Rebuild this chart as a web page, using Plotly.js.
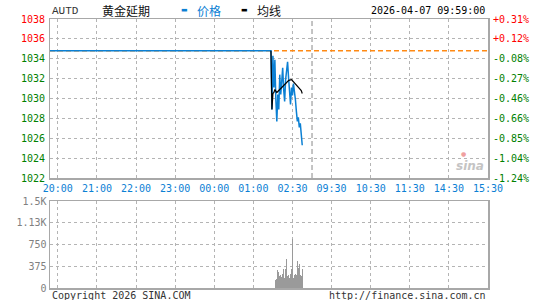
<!DOCTYPE html>
<html>
<head>
<meta charset="utf-8">
<script src="https://cdn.plot.ly/plotly-3.0.1.min.js"></script>
<style>html,body{margin:0;padding:0;background:#fff;}#chart{width:540px;height:300px;}</style>
</head>
<body>
<div id="chart"></div>
<script>
// ---- data (x = minute slot on the compressed trading-time axis) ----
const prevClose = 1034.8;
const preOpenSlots = [0, 339];
const slots = [340.5, 342, 343.5, 345, 346.5, 348, 349.5, 351, 352.5, 354, 355.5, 357, 358.5, 360, 361.5, 363,
               364.5, 366, 367.5, 369, 370.5, 372, 373.5, 375, 376.5, 378, 379.5, 381, 382.5, 384, 385.5, 387];
const price = [1028.9, 1034.3, 1031.1, 1033.9, 1029.9, 1027.7, 1030.4, 1028.9, 1032.4, 1030.4, 1031.7, 1033.1,
               1030.9, 1029.7, 1031.9, 1032.9, 1033.7, 1032.1, 1031.1, 1029.4, 1031.1, 1030.3, 1031.5, 1030.9,
               1029.9, 1028.7, 1027.7, 1028.1, 1027.1, 1027.5, 1026.3, 1025.3];
const avgPrice = [1028.9, 1030.5, 1030.6, 1030.9, 1030.8, 1030.6, 1030.7, 1030.8, 1031.0, 1031.0, 1031.1, 1031.3,
                  1031.4, 1031.4, 1031.5, 1031.6, 1031.7, 1031.8, 1031.85, 1031.9, 1031.9, 1031.8, 1031.7, 1031.6,
                  1031.5, 1031.4, 1031.3, 1031.2, 1031.1, 1031.0, 1030.8, 1030.5];
const volume = [260, 36, 40, 60, 140, 150, 315, 278, 200, 224, 188, 242, 320, 170, 333, 496,
                200, 230, 170, 242, 320, 853, 170, 230, 242, 218, 460, 350, 411, 230, 200, 333];

const xRange = [0, 672];
const timeTickVals = [12, 72, 132, 192, 252, 312, 372, 432, 492, 552, 612, 672];
const timeTickText = ['20:00', '21:00', '22:00', '23:00', '00:00', '01:00', '02:30', '09:30', '10:30', '11:30', '14:30', '15:30'];
const sessionBreak = 402;

const priceTickVals = [1022, 1024, 1026, 1028, 1030, 1032, 1034, 1036, 1038];
const priceTickText = ['1022', '1024', '1026', '1028', '1030', '1032', '1034', '1036', '1038'];
const pctTickText = ['-1.24%', '-1.04%', '-0.85%', '-0.66%', '-0.46%', '-0.27%', '-0.08%', '+0.12%', '+0.31%'];
const volTickVals = [0, 375, 750, 1125, 1500];
const volTickText = ['0', '375', '750', '1.13K', '1.5K'];

// ---- styling ----
const RED = '#ff0000', GREEN = '#008000', BLUE = '#0b80d4', GRAY = '#a8a8a8';
const MONO = 'DejaVu Sans Mono, Liberation Mono, monospace';
const yRange = [1022, 1038];
const tone = v => (v > prevClose ? RED : GREEN);

// pixel -> paper helpers (plot area: x 50..488, y 19..288)
const L = 50, R = 488, T = 19, B = 288;
const px = v => (v - L) / (R - L);
const py = v => (B - v) / (B - T);

const traces = [
  { x: xRange, y: [prevClose, prevClose], type: 'scatter', mode: 'lines', xaxis: 'x', yaxis: 'y',
    line: { color: '#ff8a14', width: 1.5, dash: '5px,3px' }, hoverinfo: 'skip' },
  { x: preOpenSlots.concat(slots), y: [prevClose, prevClose].concat(price), type: 'scatter', mode: 'lines',
    xaxis: 'x', yaxis: 'y', line: { color: BLUE, width: 1.5 }, hoverinfo: 'skip' },
  { x: [preOpenSlots[1]].concat(slots), y: [prevClose].concat(avgPrice), type: 'scatter', mode: 'lines',
    xaxis: 'x', yaxis: 'y', line: { color: '#000000', width: 1.2 }, hoverinfo: 'skip' },
  { x: slots, y: volume, type: 'bar', xaxis: 'x2', yaxis: 'y2', width: 1.1,
    marker: { color: '#9a9a9a', line: { width: 0 } }, hoverinfo: 'skip' }
];

const gridCommon = { showgrid: true, griddash: 'dot', gridcolor: '#b4b4b4', gridwidth: 1,
  showline: true, mirror: true, linecolor: GRAY, linewidth: 1.5, zeroline: false, ticks: '' };

const annotations = [];
// price labels (left) and percent labels (right), coloured by side of previous close
priceTickVals.forEach((v, i) => {
  annotations.push({ text: priceTickText[i], x: px(47), y: v, xref: 'paper', yref: 'y', xanchor: 'right',
    yanchor: 'middle', showarrow: false, font: { family: MONO, size: 10, color: tone(v) } });
  annotations.push({ text: pctTickText[i], x: px(491), y: v, xref: 'paper', yref: 'y', xanchor: 'left',
    yanchor: 'middle', showarrow: false, font: { family: MONO, size: 10, color: tone(v) } });
});
annotations.push(
  { text: 'AUTD', x: px(50), y: py(11), xref: 'paper', yref: 'paper', xanchor: 'left', yanchor: 'middle',
    showarrow: false, font: { family: 'Liberation Mono, monospace', size: 11, color: '#333' } },
  { text: '黄金延期', x: px(100), y: py(10), xref: 'paper', yref: 'paper', xanchor: 'left', yanchor: 'middle',
    showarrow: false, font: { family: 'Noto Sans CJK SC', size: 12, color: '#111' } },
  { text: '▬', x: px(179), y: py(10), xref: 'paper', yref: 'paper', xanchor: 'left', yanchor: 'middle',
    showarrow: false, font: { family: 'DejaVu Sans', size: 7, color: BLUE } },
  { text: '价格', x: px(195), y: py(10), xref: 'paper', yref: 'paper', xanchor: 'left', yanchor: 'middle',
    showarrow: false, font: { family: 'Noto Sans CJK SC', size: 12, color: BLUE } },
  { text: '▬', x: px(239), y: py(10), xref: 'paper', yref: 'paper', xanchor: 'left', yanchor: 'middle',
    showarrow: false, font: { family: 'DejaVu Sans', size: 7, color: '#000' } },
  { text: '均线', x: px(255), y: py(10), xref: 'paper', yref: 'paper', xanchor: 'left', yanchor: 'middle',
    showarrow: false, font: { family: 'Noto Sans CJK SC', size: 12, color: '#111' } },
  { text: '2026-04-07 09:59:00', x: px(487), y: py(10), xref: 'paper', yref: 'paper', xanchor: 'right', yanchor: 'middle',
    showarrow: false, font: { family: MONO, size: 10, color: '#000' } },
  { text: 'Copyright 2026 SINA.COM', x: px(50), y: py(295), xref: 'paper', yref: 'paper', xanchor: 'left', yanchor: 'middle',
    showarrow: false, font: { family: MONO, size: 10, color: '#333' } },
  { text: 'http://finance.sina.com.cn', x: px(488), y: py(295), xref: 'paper', yref: 'paper', xanchor: 'right', yanchor: 'middle',
    showarrow: false, font: { family: MONO, size: 10, color: '#333' } },
  { text: '<b><i>sina</i></b>', x: px(470), y: py(166), xref: 'paper', yref: 'paper', xanchor: 'center', yanchor: 'middle',
    showarrow: false, font: { family: 'DejaVu Sans', size: 12, color: '#c4c4c4' } },
  { text: '●', x: px(463), y: py(153), xref: 'paper', yref: 'paper', xanchor: 'center', yanchor: 'middle',
    showarrow: false, font: { family: 'DejaVu Sans', size: 6, color: '#f0a0a0' } }
);

const layout = {
  width: 540, height: 300,
  margin: { l: L, r: 540 - R, t: T, b: 300 - B },
  paper_bgcolor: '#ffffff', plot_bgcolor: '#ffffff',
  showlegend: false,
  font: { family: MONO, size: 10, color: '#000' },
  xaxis: Object.assign({}, gridCommon, { anchor: 'y', range: xRange, tickmode: 'array',
    tickvals: timeTickVals, ticktext: timeTickText, tickfont: { color: BLUE, size: 10, family: MONO } }),
  yaxis: Object.assign({}, gridCommon, { domain: [py(178), 1], range: yRange, tickmode: 'array',
    tickvals: priceTickVals, showticklabels: false }),
  xaxis2: Object.assign({}, gridCommon, { anchor: 'y2', range: xRange, tickmode: 'array',
    tickvals: timeTickVals, showticklabels: false }),
  yaxis2: Object.assign({}, gridCommon, { domain: [0, py(201)], range: [0, 1500], tickmode: 'array',
    tickvals: volTickVals, ticktext: volTickText, tickfont: { color: '#808080', size: 10, family: MONO } }),
  bargap: 0,
  shapes: [
    { type: 'line', xref: 'x', yref: 'y', x0: sessionBreak, x1: sessionBreak, y0: yRange[0], y1: yRange[1],
      line: { color: '#b0b0b0', width: 1.5, dash: '5px,3px' }, layer: 'below' }
  ],
  annotations: annotations
};

Plotly.newPlot('chart', traces, layout, { staticPlot: true, displayModeBar: false });
</script>
</body>
</html>
